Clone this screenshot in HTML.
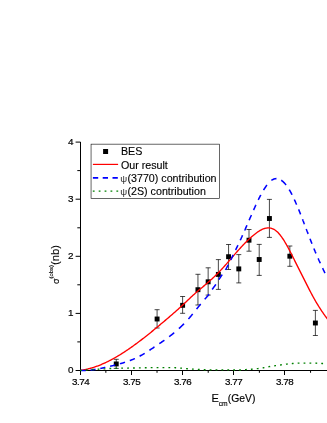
<!DOCTYPE html><html><head><meta charset="utf-8"><style>html,body{margin:0;padding:0;background:#fff}svg{display:block;will-change:transform}text{font-family:"Liberation Sans",sans-serif;fill:#000}</style></head><body>
<svg width="327" height="423" viewBox="0 0 327 423">
<rect width="327" height="423" fill="#fff"/>
<path d="M80.5,142 V371.0 M80.0,370.5 H327 M75.6,370.5 H80.5 M77.3,341.9 H80.5 M75.6,313.4 H80.5 M77.3,284.8 H80.5 M75.6,256.3 H80.5 M77.3,227.8 H80.5 M75.6,199.2 H80.5 M77.3,170.6 H80.5 M75.6,142.1 H80.5 M80.5,370.5 V375.0 M105.85,370.5 V372.8 M131.5,370.5 V375.0 M157.03,370.5 V372.8 M182.5,370.5 V375.0 M208.21,370.5 V372.8 M233.5,370.5 V375.0 M259.39,370.5 V372.8 M284.5,370.5 V375.0 M310.57,370.5 V372.8" stroke="#000" stroke-width="1" fill="none"/>
<path d="M116.24,359.3 V368.4 M113.74,359.3 H118.74 M113.74,368.4 H118.74" stroke="#000" stroke-width="0.72" fill="none"/>
<path d="M157.09,309.7 V328 M154.59,309.7 H159.59 M154.59,328 H159.59" stroke="#000" stroke-width="0.72" fill="none"/>
<path d="M182.62,296.5 V313.3 M180.12,296.5 H185.12 M180.12,313.3 H185.12" stroke="#000" stroke-width="0.72" fill="none"/>
<path d="M197.94,274.3 V305 M195.44,274.3 H200.44 M195.44,305 H200.44" stroke="#000" stroke-width="0.72" fill="none"/>
<path d="M208.15,267.8 V295.1 M205.65,267.8 H210.65 M205.65,295.1 H210.65" stroke="#000" stroke-width="0.72" fill="none"/>
<path d="M218.36,259.6 V289.4 M215.86,259.6 H220.86 M215.86,289.4 H220.86" stroke="#000" stroke-width="0.72" fill="none"/>
<path d="M228.57,244.5 V269.5 M226.07,244.5 H231.07 M226.07,269.5 H231.07" stroke="#000" stroke-width="0.72" fill="none"/>
<path d="M238.79,254.6 V282.9 M236.29,254.6 H241.29 M236.29,282.9 H241.29" stroke="#000" stroke-width="0.72" fill="none"/>
<path d="M249.0,229.5 V251.2 M246.5,229.5 H251.5 M246.5,251.2 H251.5" stroke="#000" stroke-width="0.72" fill="none"/>
<path d="M259.21,244.4 V275.4 M256.71,244.4 H261.71 M256.71,275.4 H261.71" stroke="#000" stroke-width="0.72" fill="none"/>
<path d="M269.42,199.4 V237.4 M266.92,199.4 H271.92 M266.92,237.4 H271.92" stroke="#000" stroke-width="0.72" fill="none"/>
<path d="M289.85,246 V266.3 M287.35,246 H292.35 M287.35,266.3 H292.35" stroke="#000" stroke-width="0.72" fill="none"/>
<path d="M315.38,310.4 V335.5 M312.88,310.4 H317.88 M312.88,335.5 H317.88" stroke="#000" stroke-width="0.72" fill="none"/>
<rect x="113.79" y="361.50" width="4.9" height="4.9" fill="#000"/>
<rect x="154.64" y="316.55" width="4.9" height="4.9" fill="#000"/>
<rect x="180.17" y="302.85" width="4.9" height="4.9" fill="#000"/>
<rect x="195.49" y="287.25" width="4.9" height="4.9" fill="#000"/>
<rect x="205.70" y="279.35" width="4.9" height="4.9" fill="#000"/>
<rect x="215.91" y="271.95" width="4.9" height="4.9" fill="#000"/>
<rect x="226.12" y="254.25" width="4.9" height="4.9" fill="#000"/>
<rect x="236.34" y="266.45" width="4.9" height="4.9" fill="#000"/>
<rect x="246.55" y="237.75" width="4.9" height="4.9" fill="#000"/>
<rect x="256.76" y="257.05" width="4.9" height="4.9" fill="#000"/>
<rect x="266.97" y="216.05" width="4.9" height="4.9" fill="#000"/>
<rect x="287.40" y="253.75" width="4.9" height="4.9" fill="#000"/>
<rect x="312.93" y="320.55" width="4.9" height="4.9" fill="#000"/>
<path d="M80.50,370.35 L81.13,370.26 L81.76,370.17 L82.39,370.08 L83.02,369.97 L83.65,369.86 L84.28,369.75 L84.91,369.62 L85.54,369.50 L86.17,369.36 L86.80,369.22 L87.43,369.08 L88.06,368.93 L88.69,368.77 L89.32,368.61 L89.95,368.44 L90.59,368.27 L91.22,368.09 L91.85,367.91 L92.48,367.72 L93.11,367.52 L93.74,367.32 L94.37,367.11 L95.00,366.90 L95.63,366.69 L96.26,366.47 L96.89,366.24 L97.52,366.01 L98.15,365.77 L98.78,365.53 L99.41,365.28 L100.04,365.03 L100.67,364.77 L101.30,364.51 L101.93,364.24 L102.56,363.97 L103.19,363.70 L103.82,363.42 L104.45,363.13 L105.08,362.84 L105.71,362.55 L106.34,362.25 L106.97,361.94 L107.60,361.64 L108.23,361.32 L108.86,361.01 L109.49,360.69 L110.13,360.36 L110.76,360.03 L111.39,359.70 L112.02,359.36 L112.65,359.02 L113.28,358.67 L113.91,358.32 L114.54,357.97 L115.17,357.61 L115.80,357.25 L116.43,356.89 L117.06,356.52 L117.69,356.14 L118.32,355.77 L118.95,355.39 L119.58,355.00 L120.21,354.62 L120.84,354.22 L121.47,353.83 L122.10,353.43 L122.73,353.03 L123.36,352.63 L123.99,352.22 L124.62,351.81 L125.25,351.39 L125.88,350.97 L126.51,350.55 L127.14,350.13 L127.77,349.70 L128.40,349.27 L129.04,348.84 L129.67,348.40 L130.30,347.97 L130.93,347.52 L131.56,347.08 L132.19,346.63 L132.82,346.18 L133.45,345.73 L134.08,345.28 L134.71,344.82 L135.34,344.36 L135.97,343.89 L136.60,343.43 L137.23,342.96 L137.86,342.49 L138.49,342.02 L139.12,341.54 L139.75,341.07 L140.38,340.59 L141.01,340.11 L141.64,339.62 L142.27,339.14 L142.90,338.65 L143.53,338.16 L144.16,337.67 L144.79,337.18 L145.42,336.68 L146.05,336.18 L146.68,335.69 L147.31,335.18 L147.94,334.68 L148.58,334.18 L149.21,333.67 L149.84,333.17 L150.47,332.66 L151.10,332.15 L151.73,331.64 L152.36,331.12 L152.99,330.61 L153.62,330.09 L154.25,329.58 L154.88,329.06 L155.51,328.54 L156.14,328.02 L156.77,327.50 L157.40,326.98 L158.03,326.45 L158.66,325.93 L159.29,325.40 L159.92,324.88 L160.55,324.35 L161.18,323.82 L161.81,323.29 L162.44,322.76 L163.07,322.23 L163.70,321.70 L164.33,321.17 L164.96,320.64 L165.59,320.11 L166.22,319.57 L166.85,319.04 L167.48,318.50 L168.12,317.96 L168.75,317.42 L169.38,316.88 L170.01,316.34 L170.64,315.80 L171.27,315.25 L171.90,314.71 L172.53,314.16 L173.16,313.61 L173.79,313.06 L174.42,312.50 L175.05,311.95 L175.68,311.39 L176.31,310.83 L176.94,310.27 L177.57,309.71 L178.20,309.14 L178.83,308.57 L179.46,308.00 L180.09,307.43 L180.72,306.86 L181.35,306.28 L181.98,305.70 L182.61,305.12 L183.24,304.53 L183.87,303.95 L184.50,303.35 L185.13,302.76 L185.76,302.17 L186.39,301.57 L187.03,300.96 L187.66,300.36 L188.29,299.75 L188.92,299.15 L189.55,298.54 L190.18,297.94 L190.81,297.34 L191.44,296.75 L192.07,296.17 L192.70,295.59 L193.33,295.01 L193.96,294.44 L194.59,293.88 L195.22,293.32 L195.85,292.77 L196.48,292.22 L197.11,291.68 L197.74,291.14 L198.37,290.60 L199.00,290.07 L199.63,289.54 L200.26,289.02 L200.89,288.49 L201.52,287.97 L202.15,287.44 L202.78,286.92 L203.41,286.39 L204.04,285.86 L204.67,285.32 L205.30,284.79 L205.93,284.25 L206.57,283.70 L207.20,283.16 L207.83,282.61 L208.46,282.05 L209.09,281.49 L209.72,280.93 L210.35,280.37 L210.98,279.79 L211.61,279.22 L212.24,278.64 L212.87,278.05 L213.50,277.46 L214.13,276.87 L214.76,276.26 L215.39,275.66 L216.02,275.04 L216.65,274.43 L217.28,273.80 L217.91,273.17 L218.54,272.53 L219.17,271.89 L219.80,271.23 L220.43,270.58 L221.06,269.91 L221.69,269.24 L222.32,268.55 L222.95,267.87 L223.58,267.17 L224.21,266.47 L224.84,265.76 L225.47,265.05 L226.11,264.33 L226.74,263.61 L227.37,262.89 L228.00,262.16 L228.63,261.43 L229.26,260.70 L229.89,259.97 L230.52,259.23 L231.15,258.50 L231.78,257.77 L232.41,257.03 L233.04,256.30 L233.67,255.57 L234.30,254.84 L234.93,254.12 L235.56,253.40 L236.19,252.68 L236.82,251.96 L237.45,251.25 L238.08,250.54 L238.71,249.84 L239.34,249.14 L239.97,248.44 L240.60,247.75 L241.23,247.07 L241.86,246.39 L242.49,245.72 L243.12,245.05 L243.75,244.39 L244.38,243.74 L245.02,243.09 L245.65,242.45 L246.28,241.82 L246.91,241.19 L247.54,240.58 L248.17,239.97 L248.80,239.37 L249.43,238.78 L250.06,238.20 L250.69,237.63 L251.32,237.07 L251.95,236.51 L252.58,235.97 L253.21,235.44 L253.84,234.92 L254.47,234.41 L255.10,233.92 L255.73,233.43 L256.36,232.96 L256.99,232.50 L257.62,232.06 L258.25,231.63 L258.88,231.22 L259.51,230.83 L260.14,230.46 L260.77,230.11 L261.40,229.78 L262.03,229.47 L262.66,229.19 L263.29,228.93 L263.92,228.70 L264.56,228.50 L265.19,228.32 L265.82,228.17 L266.45,228.05 L267.08,227.97 L267.71,227.91 L268.34,227.89 L268.97,227.91 L269.60,227.96 L270.23,228.05 L270.86,228.17 L271.49,228.33 L272.12,228.54 L272.75,228.78 L273.38,229.07 L274.01,229.40 L274.64,229.77 L275.27,230.19 L275.90,230.66 L276.53,231.18 L277.16,231.74 L277.79,232.35 L278.42,233.00 L279.05,233.71 L279.68,234.45 L280.31,235.23 L280.94,236.06 L281.57,236.92 L282.20,237.82 L282.83,238.75 L283.46,239.72 L284.10,240.72 L284.73,241.74 L285.36,242.80 L285.99,243.88 L286.62,244.99 L287.25,246.12 L287.88,247.27 L288.51,248.44 L289.14,249.62 L289.77,250.83 L290.40,252.05 L291.03,253.28 L291.66,254.52 L292.29,255.77 L292.92,257.03 L293.55,258.29 L294.18,259.56 L294.81,260.83 L295.44,262.09 L296.07,263.36 L296.70,264.62 L297.33,265.87 L297.96,267.12 L298.59,268.37 L299.22,269.61 L299.85,270.85 L300.48,272.10 L301.11,273.34 L301.74,274.59 L302.37,275.83 L303.01,277.08 L303.64,278.33 L304.27,279.59 L304.90,280.85 L305.53,282.11 L306.16,283.37 L306.79,284.63 L307.42,285.88 L308.05,287.13 L308.68,288.37 L309.31,289.60 L309.94,290.83 L310.57,292.04 L311.20,293.23 L311.83,294.42 L312.46,295.59 L313.09,296.75 L313.72,297.89 L314.35,299.02 L314.98,300.13 L315.61,301.23 L316.24,302.32 L316.87,303.38 L317.50,304.43 L318.13,305.46 L318.76,306.48 L319.39,307.48 L320.02,308.46 L320.65,309.42 L321.28,310.37 L321.91,311.30 L322.55,312.22 L323.18,313.13 L323.81,314.02 L324.44,314.91 L325.07,315.78 L325.70,316.65 L326.33,317.51 L326.96,318.36 L327.59,319.20 L328.22,320.04 L328.85,320.87 L329.48,321.70 L330.11,322.53 L330.74,323.35 L331.37,324.18 L332.00,325.00" fill="none" stroke="#ff0000" stroke-width="1.35"/>
<path d="M80.63,370.40 L81.04,370.40 L81.46,370.40 L81.88,370.40 L82.30,370.40 L82.72,370.40 L83.14,370.40 L83.55,370.40 L83.97,370.40 L84.39,370.40 L84.81,370.40 L85.23,370.40 L85.65,370.40 L85.69,370.40 M90.46,370.05 L90.88,370.00 L91.29,369.95 L91.71,369.90 L92.13,369.85 L92.55,369.80 L92.97,369.74 L93.39,369.69 L93.81,369.63 L94.22,369.56 L94.64,369.50 L95.06,369.44 L95.48,369.37 L95.52,369.36 M100.29,368.49 L100.71,368.41 L101.13,368.32 L101.55,368.24 L101.96,368.15 L102.38,368.06 L102.80,367.97 L103.22,367.88 L103.64,367.78 L104.06,367.69 L104.47,367.60 L104.89,367.50 L105.31,367.41 L105.35,367.40 M110.12,366.26 L110.54,366.16 L110.96,366.05 L111.38,365.95 L111.80,365.85 L112.21,365.74 L112.63,365.64 L113.05,365.54 L113.47,365.43 L113.89,365.33 L114.31,365.22 L114.73,365.12 L115.14,365.01 L115.19,365.00 M119.96,363.74 L120.37,363.62 L120.79,363.50 L121.21,363.38 L121.63,363.26 L122.05,363.14 L122.47,363.02 L122.88,362.89 L123.30,362.76 L123.72,362.64 L124.14,362.51 L124.56,362.38 L124.98,362.24 L125.02,362.23 M129.79,360.59 L130.21,360.43 L130.62,360.27 L131.04,360.11 L131.46,359.95 L131.88,359.78 L132.30,359.61 L132.72,359.44 L133.14,359.27 L133.55,359.09 L133.97,358.91 L134.39,358.73 L134.81,358.54 L134.85,358.52 M139.62,356.20 L140.04,355.98 L140.46,355.75 L140.88,355.52 L141.29,355.29 L141.71,355.05 L142.13,354.81 L142.55,354.57 L142.97,354.33 L143.39,354.08 L143.80,353.83 L144.22,353.58 L144.64,353.33 L144.68,353.30 M149.45,350.28 L149.87,350.00 L150.29,349.73 L150.71,349.45 L151.13,349.17 L151.54,348.90 L151.96,348.62 L152.38,348.34 L152.80,348.06 L153.22,347.78 L153.64,347.50 L154.06,347.22 L154.47,346.94 L154.52,346.92 M159.29,343.71 L159.70,343.42 L160.12,343.14 L160.54,342.85 L160.96,342.57 L161.38,342.28 L161.80,341.99 L162.21,341.70 L162.63,341.41 L163.05,341.11 L163.47,340.82 L163.89,340.53 L164.31,340.23 L164.35,340.20 M169.12,336.71 L169.54,336.39 L169.95,336.07 L170.37,335.75 L170.79,335.42 L171.21,335.10 L171.63,334.77 L172.05,334.44 L172.46,334.10 L172.88,333.77 L173.30,333.43 L173.72,333.09 L174.14,332.74 L174.18,332.71 M178.95,328.58 L179.37,328.19 L179.79,327.81 L180.21,327.42 L180.62,327.02 L181.04,326.63 L181.46,326.23 L181.88,325.82 L182.30,325.42 L182.72,325.00 L183.13,324.59 L183.55,324.17 L183.97,323.75 L184.01,323.70 M188.45,318.95 L188.78,318.57 L189.12,318.19 L189.45,317.80 L189.79,317.42 L190.12,317.02 L190.46,316.63 L190.79,316.23 L191.13,315.84 L191.46,315.44 L191.80,315.03 L192.13,314.63 L192.46,314.22 L192.72,313.91 M196.57,309.14 L196.90,308.72 L197.23,308.30 L197.57,307.88 L197.90,307.47 L198.24,307.05 L198.57,306.63 L198.91,306.22 L199.24,305.80 L199.58,305.39 L199.91,304.97 L200.25,304.56 L200.58,304.15 L200.67,304.05 M204.68,299.28 L205.02,298.90 L205.35,298.53 L205.69,298.15 L206.02,297.78 L206.36,297.42 L206.69,297.05 L207.03,296.67 L207.36,296.30 L207.69,295.91 L208.03,295.51 L208.36,295.10 L208.70,294.67 L209.03,294.22 L209.03,294.22 M212.21,289.45 L212.51,289.02 L212.80,288.59 L213.09,288.18 L213.38,287.77 L213.68,287.37 L213.97,286.97 L214.26,286.57 L214.56,286.17 L214.85,285.76 L215.14,285.35 L215.43,284.94 L215.73,284.51 L215.81,284.39 M218.82,279.65 L219.08,279.26 L219.33,278.87 L219.58,278.48 L219.83,278.10 L220.08,277.73 L220.33,277.36 L220.58,276.99 L220.83,276.62 L221.08,276.26 L221.33,275.89 L221.59,275.53 L221.84,275.17 L222.09,274.81 L222.25,274.57 M225.43,269.82 L225.64,269.48 L225.85,269.14 L226.06,268.80 L226.27,268.44 L226.48,268.09 L226.69,267.72 L226.90,267.36 L227.11,266.99 L227.32,266.61 L227.53,266.23 L227.74,265.85 L227.95,265.46 L228.15,265.07 L228.32,264.75 M230.75,259.97 L230.96,259.55 L231.17,259.12 L231.38,258.69 L231.59,258.27 L231.79,257.84 L232.00,257.41 L232.21,256.98 L232.42,256.55 L232.63,256.12 L232.84,255.69 L233.05,255.25 L233.22,254.91 M235.56,250.09 L235.73,249.75 L235.89,249.40 L236.06,249.05 L236.23,248.71 L236.40,248.36 L236.56,248.02 L236.73,247.67 L236.90,247.32 L237.07,246.97 L237.23,246.63 L237.40,246.28 L237.57,245.93 L237.74,245.58 L237.90,245.23 L237.95,245.14 M240.25,240.28 L240.41,239.92 L240.58,239.56 L240.75,239.20 L240.92,238.84 L241.08,238.48 L241.25,238.12 L241.42,237.75 L241.59,237.39 L241.75,237.02 L241.92,236.66 L242.09,236.29 L242.25,235.92 L242.42,235.55 L242.55,235.28 M244.68,230.48 L244.85,230.10 L245.02,229.72 L245.18,229.34 L245.35,228.95 L245.52,228.57 L245.69,228.19 L245.85,227.80 L246.02,227.42 L246.19,227.03 L246.35,226.64 L246.52,226.26 L246.69,225.87 L246.86,225.48 L246.94,225.29 M249.12,220.24 L249.28,219.85 L249.45,219.46 L249.62,219.08 L249.79,218.69 L249.95,218.30 L250.12,217.91 L250.29,217.52 L250.46,217.14 L250.62,216.75 L250.79,216.36 L250.96,215.98 L251.12,215.59 L251.29,215.21 L251.38,215.01 M253.55,210.06 L253.72,209.68 L253.89,209.31 L254.05,208.94 L254.22,208.56 L254.39,208.19 L254.56,207.82 L254.72,207.45 L254.89,207.08 L255.06,206.71 L255.23,206.34 L255.39,205.98 L255.56,205.61 L255.73,205.25 L255.89,204.89 L255.94,204.80 M258.24,199.96 L258.45,199.53 L258.66,199.11 L258.87,198.69 L259.07,198.27 L259.28,197.85 L259.49,197.44 L259.70,197.03 L259.91,196.62 L260.12,196.22 L260.33,195.82 L260.54,195.42 L260.75,195.03 L260.79,194.95 M263.55,190.08 L263.80,189.67 L264.05,189.27 L264.30,188.87 L264.56,188.48 L264.81,188.09 L265.06,187.71 L265.31,187.34 L265.56,186.97 L265.81,186.61 L266.06,186.25 L266.31,185.91 L266.56,185.57 L266.81,185.23 L266.94,185.07 M271.38,180.49 L271.79,180.19 L272.21,179.92 L272.63,179.67 L273.05,179.45 L273.47,179.25 L273.89,179.09 L274.30,178.94 L274.72,178.82 L275.14,178.73 L275.56,178.67 L275.98,178.63 L276.40,178.61 L276.44,178.61 M281.25,180.24 L281.63,180.50 L282.00,180.78 L282.38,181.08 L282.76,181.40 L283.13,181.73 L283.51,182.09 L283.89,182.46 L284.26,182.85 L284.64,183.26 L285.02,183.68 L285.39,184.13 L285.77,184.59 L286.02,184.91 M289.24,189.66 L289.45,190.01 L289.66,190.36 L289.87,190.72 L290.08,191.09 L290.29,191.46 L290.50,191.83 L290.71,192.21 L290.91,192.60 L291.12,192.99 L291.33,193.38 L291.54,193.78 L291.75,194.18 L291.96,194.59 L292.04,194.75 M294.35,199.51 L294.51,199.88 L294.68,200.24 L294.85,200.61 L295.02,200.98 L295.18,201.35 L295.35,201.73 L295.52,202.10 L295.68,202.48 L295.85,202.86 L296.02,203.25 L296.19,203.63 L296.35,204.02 L296.52,204.40 L296.61,204.60 M298.61,209.40 L298.78,209.81 L298.95,210.22 L299.12,210.63 L299.28,211.04 L299.45,211.46 L299.62,211.88 L299.79,212.29 L299.95,212.71 L300.12,213.13 L300.29,213.55 L300.45,213.97 L300.62,214.40 L300.62,214.40 M302.50,219.21 L302.63,219.54 L302.76,219.86 L302.88,220.19 L303.01,220.51 L303.13,220.84 L303.26,221.17 L303.38,221.49 L303.51,221.82 L303.63,222.14 L303.76,222.47 L303.89,222.80 L304.01,223.13 L304.14,223.45 L304.26,223.78 L304.39,224.11 L304.43,224.22 M306.27,229.04 L306.40,229.37 L306.52,229.70 L306.65,230.03 L306.77,230.35 L306.90,230.68 L307.02,231.01 L307.15,231.34 L307.27,231.67 L307.40,232.00 L307.53,232.32 L307.65,232.65 L307.78,232.98 L307.90,233.31 L308.03,233.63 L308.15,233.96 L308.15,233.96 M309.99,238.73 L310.16,239.16 L310.33,239.59 L310.50,240.02 L310.66,240.45 L310.83,240.88 L311.00,241.30 L311.17,241.73 L311.33,242.15 L311.50,242.58 L311.67,243.00 L311.84,243.42 L311.96,243.74 M313.89,248.50 L314.05,248.91 L314.22,249.32 L314.39,249.72 L314.55,250.12 L314.72,250.52 L314.89,250.92 L315.06,251.32 L315.22,251.72 L315.39,252.11 L315.56,252.51 L315.73,252.90 L315.89,253.29 L315.98,253.49 M318.11,258.36 L318.28,258.74 L318.45,259.11 L318.61,259.49 L318.78,259.86 L318.95,260.23 L319.12,260.60 L319.28,260.97 L319.45,261.34 L319.62,261.71 L319.78,262.07 L319.95,262.44 L320.12,262.80 L320.29,263.17 L320.33,263.26 M322.59,268.11 L322.76,268.47 L322.92,268.82 L323.09,269.18 L323.26,269.53 L323.42,269.89 L323.59,270.24 L323.76,270.60 L323.93,270.95 L324.09,271.30 L324.26,271.66 L324.43,272.01 L324.60,272.36 L324.76,272.71 L324.93,273.06 L324.93,273.06" fill="none" stroke="#0000ff" stroke-width="1.55"/>
<path d="M80.00,370.40 L80.63,370.37 L81.25,370.33 L81.88,370.30 L82.51,370.26 L83.13,370.22 L83.76,370.18 L84.39,370.14 L85.01,370.10 L85.64,370.06 L86.27,370.02 L86.89,369.97 L87.52,369.92 L88.15,369.87 L88.77,369.81 L89.40,369.75 L90.03,369.70 L90.65,369.64 L91.28,369.59 L91.90,369.54 L92.53,369.50 L93.16,369.46 L93.78,369.43 L94.41,369.40 L95.04,369.37 L95.66,369.34 L96.29,369.31 L96.92,369.28 L97.54,369.25 L98.17,369.22 L98.80,369.19 L99.42,369.16 L100.05,369.13 L100.68,369.10 L101.30,369.06 L101.93,369.03 L102.56,369.00 L103.18,368.96 L103.81,368.93 L104.44,368.89 L105.06,368.85 L105.69,368.80 L106.32,368.75 L106.94,368.70 L107.57,368.65 L108.20,368.60 L108.82,368.56 L109.45,368.52 L110.08,368.50 L110.70,368.49 L111.33,368.47 L111.95,368.46 L112.58,368.45 L113.21,368.45 L113.83,368.44 L114.46,368.43 L115.09,368.42 L115.71,368.41 L116.34,368.39 L116.97,368.37 L117.59,368.33 L118.22,368.30 L118.85,368.26 L119.47,368.22 L120.10,368.19 L120.73,368.15 L121.35,368.13 L121.98,368.11 L122.61,368.10 L123.23,368.09 L123.86,368.08 L124.49,368.07 L125.11,368.07 L125.74,368.06 L126.37,368.06 L126.99,368.05 L127.62,368.05 L128.25,368.05 L128.87,368.04 L129.50,368.04 L130.13,368.04 L130.75,368.03 L131.38,368.03 L132.01,368.03 L132.63,368.02 L133.26,368.02 L133.88,368.01 L134.51,368.01 L135.14,368.00 L135.76,367.99 L136.39,367.98 L137.02,367.97 L137.64,367.96 L138.27,367.94 L138.90,367.93 L139.52,367.92 L140.15,367.90 L140.78,367.89 L141.40,367.87 L142.03,367.85 L142.66,367.84 L143.28,367.82 L143.91,367.81 L144.54,367.79 L145.16,367.78 L145.79,367.76 L146.42,367.75 L147.04,367.74 L147.67,367.73 L148.30,367.72 L148.92,367.71 L149.55,367.70 L150.18,367.70 L150.80,367.69 L151.43,367.69 L152.06,367.69 L152.68,367.68 L153.31,367.68 L153.93,367.68 L154.56,367.67 L155.19,367.67 L155.81,367.67 L156.44,367.66 L157.07,367.66 L157.69,367.66 L158.32,367.66 L158.95,367.66 L159.57,367.65 L160.20,367.65 L160.83,367.65 L161.45,367.65 L162.08,367.65 L162.71,367.65 L163.33,367.65 L163.96,367.65 L164.59,367.65 L165.21,367.65 L165.84,367.65 L166.47,367.65 L167.09,367.66 L167.72,367.66 L168.35,367.66 L168.97,367.66 L169.60,367.66 L170.23,367.67 L170.85,367.67 L171.48,367.67 L172.11,367.68 L172.73,367.68 L173.36,367.69 L173.98,367.69 L174.61,367.70 L175.24,367.70 L175.86,367.72 L176.49,367.75 L177.12,367.79 L177.74,367.84 L178.37,367.90 L179.00,367.96 L179.62,368.01 L180.25,368.07 L180.88,368.12 L181.50,368.18 L182.13,368.24 L182.76,368.31 L183.38,368.37 L184.01,368.44 L184.64,368.51 L185.26,368.57 L185.89,368.63 L186.52,368.69 L187.14,368.73 L187.77,368.78 L188.40,368.82 L189.02,368.86 L189.65,368.90 L190.28,368.94 L190.90,368.98 L191.53,369.02 L192.16,369.06 L192.78,369.10 L193.41,369.14 L194.04,369.18 L194.66,369.23 L195.29,369.27 L195.91,369.31 L196.54,369.35 L197.17,369.39 L197.79,369.43 L198.42,369.47 L199.05,369.50 L199.67,369.53 L200.30,369.57 L200.93,369.60 L201.55,369.63 L202.18,369.66 L202.81,369.69 L203.43,369.71 L204.06,369.73 L204.69,369.74 L205.31,369.75 L205.94,369.76 L206.57,369.77 L207.19,369.78 L207.82,369.79 L208.45,369.79 L209.07,369.80 L209.70,369.80 L210.33,369.81 L210.95,369.82 L211.58,369.82 L212.21,369.83 L212.83,369.83 L213.46,369.83 L214.09,369.84 L214.71,369.84 L215.34,369.85 L215.96,369.85 L216.59,369.85 L217.22,369.86 L217.84,369.86 L218.47,369.86 L219.10,369.87 L219.72,369.87 L220.35,369.87 L220.98,369.88 L221.60,369.88 L222.23,369.88 L222.86,369.89 L223.48,369.89 L224.11,369.89 L224.74,369.90 L225.36,369.90 L225.99,369.91 L226.62,369.91 L227.24,369.92 L227.87,369.92 L228.50,369.93 L229.12,369.93 L229.75,369.94 L230.38,369.94 L231.00,369.95 L231.63,369.96 L232.26,369.96 L232.88,369.97 L233.51,369.97 L234.14,369.98 L234.76,369.98 L235.39,369.98 L236.02,369.99 L236.64,369.99 L237.27,369.99 L237.89,370.00 L238.52,370.00 L239.15,370.00 L239.77,370.00 L240.40,370.00 L241.03,369.98 L241.65,369.94 L242.28,369.90 L242.91,369.85 L243.53,369.79 L244.16,369.74 L244.79,369.68 L245.41,369.63 L246.04,369.58 L246.67,369.54 L247.29,369.50 L247.92,369.46 L248.55,369.43 L249.17,369.39 L249.80,369.35 L250.43,369.30 L251.05,369.26 L251.68,369.21 L252.31,369.16 L252.93,369.10 L253.56,369.04 L254.19,368.98 L254.81,368.92 L255.44,368.85 L256.07,368.78 L256.69,368.71 L257.32,368.63 L257.94,368.56 L258.57,368.48 L259.20,368.40 L259.82,368.32 L260.45,368.24 L261.08,368.15 L261.70,368.06 L262.33,367.97 L262.96,367.87 L263.58,367.77 L264.21,367.66 L264.84,367.54 L265.46,367.41 L266.09,367.28 L266.72,367.14 L267.34,367.01 L267.97,366.87 L268.60,366.75 L269.22,366.63 L269.85,366.52 L270.48,366.42 L271.10,366.32 L271.73,366.22 L272.36,366.12 L272.98,366.03 L273.61,365.93 L274.24,365.84 L274.86,365.75 L275.49,365.66 L276.12,365.57 L276.74,365.48 L277.37,365.39 L277.99,365.31 L278.62,365.22 L279.25,365.14 L279.87,365.06 L280.50,364.97 L281.13,364.88 L281.75,364.79 L282.38,364.70 L283.01,364.61 L283.63,364.51 L284.26,364.42 L284.89,364.33 L285.51,364.24 L286.14,364.15 L286.77,364.08 L287.39,364.01 L288.02,363.94 L288.65,363.87 L289.27,363.81 L289.90,363.74 L290.53,363.69 L291.15,363.63 L291.78,363.58 L292.41,363.52 L293.03,363.47 L293.66,363.42 L294.29,363.37 L294.91,363.32 L295.54,363.26 L296.17,363.22 L296.79,363.18 L297.42,363.14 L298.05,363.12 L298.67,363.10 L299.30,363.09 L299.92,363.08 L300.55,363.07 L301.18,363.07 L301.80,363.06 L302.43,363.06 L303.06,363.05 L303.68,363.05 L304.31,363.05 L304.94,363.05 L305.56,363.05 L306.19,363.06 L306.82,363.06 L307.44,363.07 L308.07,363.07 L308.70,363.08 L309.32,363.09 L309.95,363.09 L310.58,363.10 L311.20,363.11 L311.83,363.11 L312.46,363.12 L313.08,363.13 L313.71,363.14 L314.34,363.15 L314.96,363.17 L315.59,363.18 L316.22,363.20 L316.84,363.21 L317.47,363.23 L318.10,363.26 L318.72,363.29 L319.35,363.32 L319.97,363.36 L320.60,363.40 L321.23,363.43 L321.85,363.47 L322.48,363.50 L323.11,363.54 L323.73,363.58 L324.36,363.62 L324.99,363.65 L325.61,363.69 L326.24,363.74 L326.87,363.78 L327.49,363.82 L328.12,363.86 L328.75,363.91 L329.37,363.95 L330.00,364.00" fill="none" stroke="#008000" stroke-width="1.35" stroke-dasharray="1.8 4.1"/>
<text x="73.4" y="373.1" font-size="9.9" stroke="#000" stroke-width="0.2" text-anchor="end">0</text>
<text x="73.4" y="316.0" font-size="9.9" stroke="#000" stroke-width="0.2" text-anchor="end">1</text>
<text x="73.4" y="258.9" font-size="9.9" stroke="#000" stroke-width="0.2" text-anchor="end">2</text>
<text x="73.4" y="201.8" font-size="9.9" stroke="#000" stroke-width="0.2" text-anchor="end">3</text>
<text x="73.4" y="144.7" font-size="9.9" stroke="#000" stroke-width="0.2" text-anchor="end">4</text>
<text x="80.7" y="385" font-size="9.8" letter-spacing="-0.42" stroke="#000" stroke-width="0.2" text-anchor="middle">3.74</text>
<text x="131.7" y="385" font-size="9.8" letter-spacing="-0.42" stroke="#000" stroke-width="0.2" text-anchor="middle">3.75</text>
<text x="182.7" y="385" font-size="9.8" letter-spacing="-0.42" stroke="#000" stroke-width="0.2" text-anchor="middle">3.76</text>
<text x="233.7" y="385" font-size="9.8" letter-spacing="-0.42" stroke="#000" stroke-width="0.2" text-anchor="middle">3.77</text>
<text x="284.7" y="385" font-size="9.8" letter-spacing="-0.42" stroke="#000" stroke-width="0.2" text-anchor="middle">3.78</text>
<text transform="translate(211.4,402) scale(0.955,1)" font-size="11.6" stroke="#000" stroke-width="0.15">E<tspan font-size="7" dy="4">cm</tspan><tspan font-size="10.9" dy="-4">(GeV)</tspan></text>
<text transform="translate(58.9,284.1) rotate(-90)" font-size="9.2" stroke="#000" stroke-width="0.12">σ<tspan font-size="5.9" dy="-6.2">(obs)</tspan><tspan font-size="11.3" dy="6.2">(nb)</tspan></text>
<rect x="91.05" y="144.15" width="128.45" height="54.15" fill="#fff" stroke="#000" stroke-width="0.6"/>
<rect x="103.1" y="149" width="5" height="5" fill="#000"/>
<path d="M92.9,164.4 H118.1" stroke="#ff0000" stroke-width="1.2"/>
<path d="M92.9,177.9 H118.2" stroke="#0000ff" stroke-width="1.6" stroke-dasharray="5.3 4.5"/>
<path d="M92.8,191.1 H118.2" stroke="#008000" stroke-width="1.35" stroke-dasharray="1.8 4.1"/>
<text x="120.9" y="155" font-size="10.7" stroke="#000" stroke-width="0.12">BES</text>
<text x="120.9" y="168.5" font-size="10.7" stroke="#000" stroke-width="0.12">Our result</text>
<text x="120.2" y="182" font-size="9.7" fill-opacity="0.85">ψ</text><text x="127.45" y="182" font-size="10.7" stroke="#000" stroke-width="0.12">(3770) contribution</text>
<text x="120.2" y="195.4" font-size="9.7" fill-opacity="0.85">ψ</text><text x="127.45" y="195.4" font-size="10.7" stroke="#000" stroke-width="0.12">(2S) contribution</text>
</svg></body></html>
